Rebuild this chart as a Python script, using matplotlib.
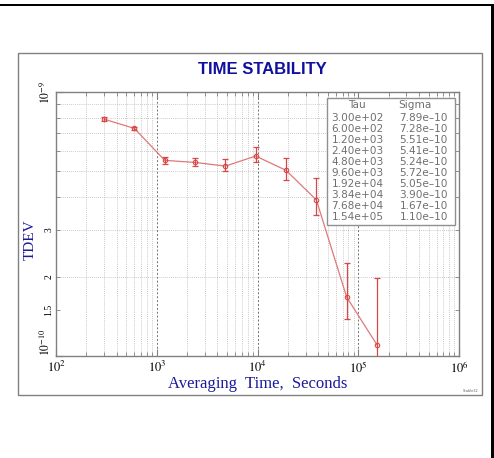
import matplotlib
matplotlib.use("Agg")
import matplotlib.pyplot as plt
from matplotlib.patches import Rectangle
from matplotlib.ticker import FixedLocator, NullFormatter, FixedFormatter
import numpy as np

tau = [300, 600, 1200, 2400, 4800, 9600, 19200, 38400, 76800, 154000]
sigma = [7.89e-10, 7.28e-10, 5.51e-10, 5.41e-10, 5.24e-10, 5.72e-10, 5.05e-10, 3.90e-10, 1.67e-10, 1.10e-10]
sigma_lo = [7.76e-10, 7.16e-10, 5.35e-10, 5.25e-10, 5.03e-10, 5.42e-10, 4.64e-10, 3.42e-10, 1.38e-10, 0.80e-10]
sigma_hi = [8.02e-10, 7.40e-10, 5.67e-10, 5.61e-10, 5.56e-10, 6.17e-10, 5.61e-10, 4.71e-10, 2.26e-10, 1.97e-10]
tau_labels = ["3.00e+02", "6.00e+02", "1.20e+03", "2.40e+03", "4.80e+03",
              "9.60e+03", "1.92e+04", "3.84e+04", "7.68e+04", "1.54e+05"]
sigma_labels = ["7.89e\u201310", "7.28e\u201310", "5.51e\u201310", "5.41e\u201310", "5.24e\u201310",
                "5.72e\u201310", "5.05e\u201310", "3.90e\u201310", "1.67e\u201310", "1.10e\u201310"]
x_major = [1e2, 1e3, 1e4, 1e5, 1e6]
x_major_labels = [r"$10^{2}$", r"$10^{3}$", r"$10^{4}$", r"$10^{5}$", r"$10^{6}$"]
y_major = [1e-10, 1e-9]
y_major_labels = [r"$10^{-10}$", r"$10^{-9}$"]
y_minor_labeled = [1.5e-10, 2e-10, 3e-10]
y_minor_labels = ["1.5", "2", "3"]

plt.rcParams['mathtext.fontset'] = 'stix'

W, H = 494, 458
fig = plt.figure(figsize=(W / 100, H / 100), dpi=100)
fig.patch.set_facecolor('white')

def fx(px):
    return px / W

def fy(py):
    return 1 - py / H

# window border (black)
fig.add_artist(Rectangle((0, fy(6)), 1, 2.5 / H, transform=fig.transFigure,
                         facecolor='black', edgecolor='none'))
fig.add_artist(Rectangle((fx(490.5), 0), 3.5 / W, fy(4), transform=fig.transFigure,
                         facecolor='black', edgecolor='none'))
# gray panel frame
fig.add_artist(Rectangle((fx(17.5), fy(395)), (482 - 17.5) / W, (395 - 52.5) / H,
                         transform=fig.transFigure, facecolor='none',
                         edgecolor='#808080', linewidth=1.0))

ax = fig.add_axes([fx(56), fy(356), (459 - 56) / W, (356 - 92) / H])
ax.set_xscale('log')
ax.set_yscale('log')
ax.set_xlim(1e2, 1e6)
ax.set_ylim(1e-10, 1e-9)

for s in ax.spines.values():
    s.set_color('#808080')
    s.set_linewidth(1.0)

# ticks
ax.xaxis.set_major_locator(FixedLocator(x_major))
ax.xaxis.set_major_formatter(FixedFormatter(x_major_labels))
xminor = [m * 10 ** d for d in range(2, 6) for m in range(2, 10)]
ax.xaxis.set_minor_locator(FixedLocator(xminor))
ax.xaxis.set_minor_formatter(NullFormatter())

ax.yaxis.set_major_locator(FixedLocator(y_major))
ax.yaxis.set_major_formatter(FixedFormatter(y_major_labels))
yminor = [1.5e-10] + [m * 1e-10 for m in range(2, 10)]
ax.yaxis.set_minor_locator(FixedLocator(yminor))
ylabs = []
for v in yminor:
    if v in y_minor_labeled:
        ylabs.append(y_minor_labels[y_minor_labeled.index(v)])
    else:
        ylabs.append("")
ax.yaxis.set_minor_formatter(FixedFormatter(ylabs))

ax.tick_params(which='both', direction='in', top=True, right=True, color='#808080')
ax.tick_params(which='major', length=5, width=0.8)
ax.tick_params(which='minor', length=3, width=0.6)
ax.tick_params(axis='x', which='major', labelsize=9, pad=3)
ax.tick_params(axis='y', which='both', labelsize=7, pad=2)

for lab in ax.get_yticklabels(which='minor'):
    lab.set_rotation(90)
    lab.set_va('center')
    lab.set_fontfamily('Liberation Serif')
for i, lab in enumerate(ax.get_yticklabels(which='major')):
    lab.set_rotation(90)
    lab.set_fontsize(8.5)
    lab.set_va('bottom' if i == 0 else 'center')

# grid
for v in xminor:
    ax.axvline(v, color='#b8b8b8', linestyle=(0, (1, 1.5)), linewidth=0.6, zorder=0)
for v in [1e3, 1e4, 1e5]:
    ax.axvline(v, color='#707070', linestyle=(0, (2, 2)), linewidth=0.7, zorder=0)
for v in [m * 1e-10 for m in range(2, 10)]:
    ax.axhline(v, color='#b8b8b8', linestyle=(0, (1, 1.5)), linewidth=0.6, zorder=0)

sig = np.array(sigma)
yerr = np.vstack([sig - np.array(sigma_lo), np.array(sigma_hi) - sig])
ax.plot(tau, sigma, color='#e07878', linewidth=0.9, zorder=3)
ax.errorbar(tau, sigma, yerr=yerr, fmt='none', ecolor='#d84848', elinewidth=0.9,
            capsize=2.2, capthick=0.9, zorder=4)
ax.plot(tau, sigma, linestyle='none', marker='o', markersize=3.2,
        markerfacecolor='none', markeredgecolor='#d84848', markeredgewidth=0.8, zorder=5)

# table box
fig.add_artist(Rectangle((fx(326.5), fy(225)), (455 - 326.5) / W, (225 - 98.5) / H,
                         transform=fig.transFigure, facecolor='white',
                         edgecolor='#909090', linewidth=1.0, zorder=10))
tc = '#707070'
fs = 7.6
fig.text(fx(357), fy(105.5), "Tau", ha='center', va='center', fontsize=fs, color=tc, zorder=11)
fig.text(fx(415), fy(105.5), "Sigma", ha='center', va='center', fontsize=fs, color=tc, zorder=11)
for i in range(len(tau_labels)):
    yy = 118.3 + i * 10.93
    fig.text(fx(331.5), fy(yy), tau_labels[i], ha='left', va='center', fontsize=fs,
             color=tc, zorder=11)
    fig.text(fx(399.5), fy(yy), sigma_labels[i], ha='left', va='center', fontsize=fs,
             color=tc, zorder=11)

# titles
fig.text(fx(262), fy(69), "TIME STABILITY", ha='center', va='center', fontsize=12,
         fontweight='bold', family='Liberation Sans', color='#1010a0')
fig.text(fx(258), fy(384), "Averaging  Time,  Seconds", ha='center', va='center',
         fontsize=12, family='Liberation Serif', color='#1a1a9a')
fig.text(fx(30), fy(240), "TDEV", ha='center', va='center', rotation=90,
         fontsize=11, family='Liberation Serif', color='#1a1a9a')
fig.text(fx(478), fy(391), "Stable32", ha='right', va='center', fontsize=2.5, color='#606060')

fig.savefig("out.png", dpi=100)
